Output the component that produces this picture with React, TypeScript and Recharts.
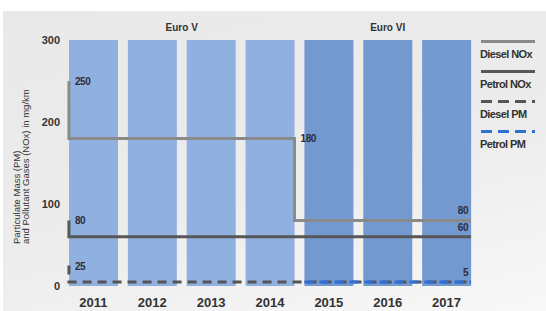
import React from "react"
import { ComposedChart, Bar, Cell, Line, XAxis, YAxis, Legend, LabelList, ReferenceDot } from "recharts"

// categories
const years = [2011, 2012, 2013, 2014, 2015, 2016, 2017]
const stage = ["Euro V", "Euro V", "Euro V", "Euro V", "Euro VI", "Euro VI", "Euro VI"]
const stageLabels = ["Euro V", "Euro VI"]
const stageCenters = [2012.5, 2016]

// limits in mg/km, per year (null = no limit shown)
const dieselNOxStart = 250
const dieselNOx = [180, 180, 180, 180, 80, 80, 80]
const petrolNOxStart = 80
const petrolNOx = [60, 60, 60, 60, 60, 60, 60]
const dieselPMStart = 25
const dieselPM = [5, 5, 5, 5, 5, 5, 5]
const petrolPM = [null, null, null, null, 5, 5, 5]

const yTicks = [0, 100, 200, 300]

const EDGE = 0.416 // half bar width in year units
const BAR_LIGHT = "#90b1e0"
const BAR_DARK = "#7399d0"

type Pt = { x: number; v: number; label?: number }

function stepPoints(start: number | null, limits: (number | null)[], endLabel = true): Pt[] {
  const first = limits.findIndex((l) => l != null)
  const pts: Pt[] = []
  if (start != null) pts.push({ x: years[first] - EDGE, v: start, label: start })
  pts.push({ x: years[first] - EDGE, v: limits[first] as number })
  for (let i = first + 1; i < limits.length; i++) {
    if (limits[i] !== limits[i - 1]) {
      pts.push({ x: years[i - 1] + EDGE, v: limits[i - 1] as number, label: limits[i - 1] as number })
      pts.push({ x: years[i - 1] + EDGE, v: limits[i] as number })
    }
  }
  const last = limits[limits.length - 1] as number
  pts.push({ x: years[years.length - 1] + EDGE, v: last, label: endLabel ? last : undefined })
  return pts
}

const series = [
  { name: "Diesel NOx", data: stepPoints(dieselNOxStart, dieselNOx), color: "#8a8a8a", dash: undefined },
  { name: "Petrol NOx", data: stepPoints(petrolNOxStart, petrolNOx), color: "#575757", dash: undefined },
  { name: "Diesel PM", data: stepPoints(dieselPMStart, dieselPM), color: "#555", dash: "9 6" },
  { name: "Petrol PM", data: stepPoints(null, petrolPM, false), color: "#2f6fd8", dash: "9 6" },
]

const barData = years.map((y, i) => ({ year: String(y), top: 300, stage: stage[i] }))

const renderValue = (count: number) => (props: any) => {
  const { x, y, value, index } = props
  if (value == null) return null
  const isEnd = index === count - 1
  return (
    <text
      x={isEnd ? x - 3 : x + 6}
      y={isEnd ? y - 6 : y + 4}
      textAnchor={isEnd ? "end" : "start"}
      fontSize={10}
      fontWeight="bold"
      fill="#2c2c3c"
      letterSpacing={-0.4}
    >
      {value}
    </text>
  )
}

const YLabel = () => (
  <g fontSize={9.5} fill="#333" fontFamily="Liberation Sans, Arial, sans-serif">
    <text transform="translate(19.5,244) rotate(-90)">Particulate Mass (PM)</text>
    <text transform="translate(29,244) rotate(-90)">and Pollutant Gases (NOx) in mg/km</text>
  </g>
)

const LegendBox = () => (
  <div style={{ width: 58, fontFamily: "Liberation Sans, Arial, sans-serif" }}>
    {series.map((s) => (
      <div key={s.name} style={{ height: 30 }}>
        <svg width={56} height={5} style={{ display: "block" }}>
          <line x1={1} y1={2.5} x2={55} y2={2.5} stroke={s.color} strokeWidth={3} strokeDasharray={s.dash ? "11 6" : undefined} />
        </svg>
        <div style={{ fontSize: 11, fontWeight: "bold", color: "#333", letterSpacing: -0.6, marginTop: 4, whiteSpace: "nowrap" }}>
          {s.name}
        </div>
      </div>
    ))}
  </div>
)

export default function App() {
  return (
    <div
      style={{
        position: "absolute",
        left: 0,
        top: 0,
        width: 546,
        height: 311,
        background: "#fff",
        fontFamily: "Liberation Sans, Arial, sans-serif",
      }}
    >
      <div
        style={{
          position: "absolute",
          left: 3,
          top: 11,
          width: 543,
          height: 300,
          background: "linear-gradient(165deg, #e9e9e9 0%, #ececec 55%, #f8f8f8 100%)",
        }}
      />
      <div style={{ position: "absolute", left: 0, top: 0 }}>
        <ComposedChart width={546} height={311} data={barData} margin={{ top: 40, right: 12, bottom: 0, left: 0 }}>
          <XAxis
            xAxisId="cat"
            dataKey="year"
            type="category"
            interval={0}
            axisLine={false}
            tickLine={false}
            tickSize={0}
            tickMargin={12}
            height={25}
            tick={{ fontSize: 13, fontWeight: "bold", fill: "#333" }}
          />
          <XAxis xAxisId="num" dataKey="x" type="number" domain={[2010.5, 2017.5]} allowDataOverflow hide height={0} />
          <YAxis
            type="number"
            domain={[0, 300]}
            ticks={yTicks}
            axisLine={false}
            tickLine={false}
            tickSize={0}
            tickMargin={4}
            width={64}
            tick={{ fontSize: 11, fontWeight: "bold", fill: "#333" }}
            label={{ content: () => <YLabel /> }}
          />
          <Bar xAxisId="cat" dataKey="top" barSize={49} isAnimationActive={false}>
            {barData.map((d) => (
              <Cell key={d.year} fill={d.stage === "Euro V" ? BAR_LIGHT : BAR_DARK} />
            ))}
          </Bar>
          {series.map((s) => (
            <Line
              key={s.name}
              xAxisId="num"
              data={s.data}
              dataKey="v"
              name={s.name}
              type="linear"
              stroke={s.color}
              strokeWidth={3}
              strokeDasharray={s.dash}
              dot={false}
              activeDot={false}
              isAnimationActive={false}
            >
              <LabelList dataKey="label" content={renderValue(s.data.length)} />
            </Line>
          ))}
          {stageLabels.map((l, i) => (
            <ReferenceDot
              key={l}
              xAxisId="num"
              x={stageCenters[i]}
              y={300}
              r={0}
              stroke="none"
              fill="none"
              label={{ value: l, position: "top", offset: 9, fontSize: 10, fill: "#333", fontWeight: 600 }}
            />
          ))}
          <Legend
            layout="vertical"
            verticalAlign="top"
            align="right"
            content={() => <LegendBox />}
            wrapperStyle={{ top: 39, right: 8, left: "auto", width: 58 }}
          />
        </ComposedChart>
      </div>
    </div>
  )
}
